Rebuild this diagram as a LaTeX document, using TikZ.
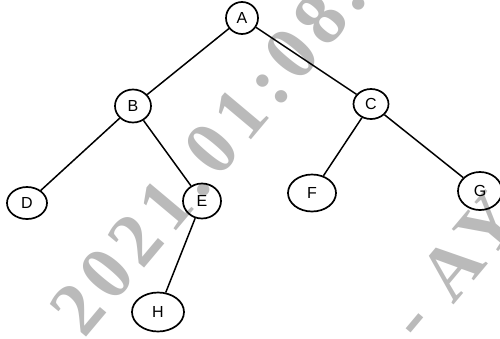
\documentclass[tikz,border=0pt]{standalone}
\usepackage{fontspec}
\setmainfont{Liberation Serif}
\newfontfamily\wmfont[LetterSpace=10]{Liberation Serif}
\newfontfamily\handfont{Liberation Sans}
\usetikzlibrary{shapes.geometric}
\begin{document}
\begin{tikzpicture}[x=1pt,y=-1pt,
  vert/.style={ellipse, draw, line width=1.7pt, inner sep=0pt,
    font=\handfont\fontsize{16}{16}\selectfont},
  edge/.style={line width=1.5pt},
  wm/.style={text=black!27, font=\wmfont\bfseries\fontsize{76}{76}\selectfont,
    rotate=50, anchor=base west, inner sep=0pt}]
\useasboundingbox (0,0) rectangle (500,338);
\begin{scope}
\clip (0,0) rectangle (500,338);
\node[wm] (wm1) at (84,340) {2021.01:08.};
\node[wm] (wm2) at (420,345) {- AY};
\end{scope}
\node[vert, minimum width=32pt, minimum height=32pt] (A) at (242,18) {A};
\node[vert, minimum width=36pt, minimum height=33pt] (B) at (133,106) {B};
\node[vert, minimum width=35pt, minimum height=30pt] (C) at (371,104) {C};
\node[vert, minimum width=40pt, minimum height=32pt] (D) at (27,203) {D};
\node[vert, minimum width=38pt, minimum height=35pt] (E) at (202,201) {E};
\node[vert, minimum width=48pt, minimum height=37pt] (F) at (312,193) {F};
\node[vert, minimum width=44pt, minimum height=38pt] (G) at (480,191) {G};
\node[vert, minimum width=52pt, minimum height=39pt] (H) at (158,312) {H};
\draw[edge] (A) -- (B);
\draw[edge] (A) -- (C);
\draw[edge] (B) -- (D);
\draw[edge] (B) -- (E);
\draw[edge] (C) -- (F);
\draw[edge] (C) -- (G);
\draw[edge] (E) -- (H);
\end{tikzpicture}
\end{document}
